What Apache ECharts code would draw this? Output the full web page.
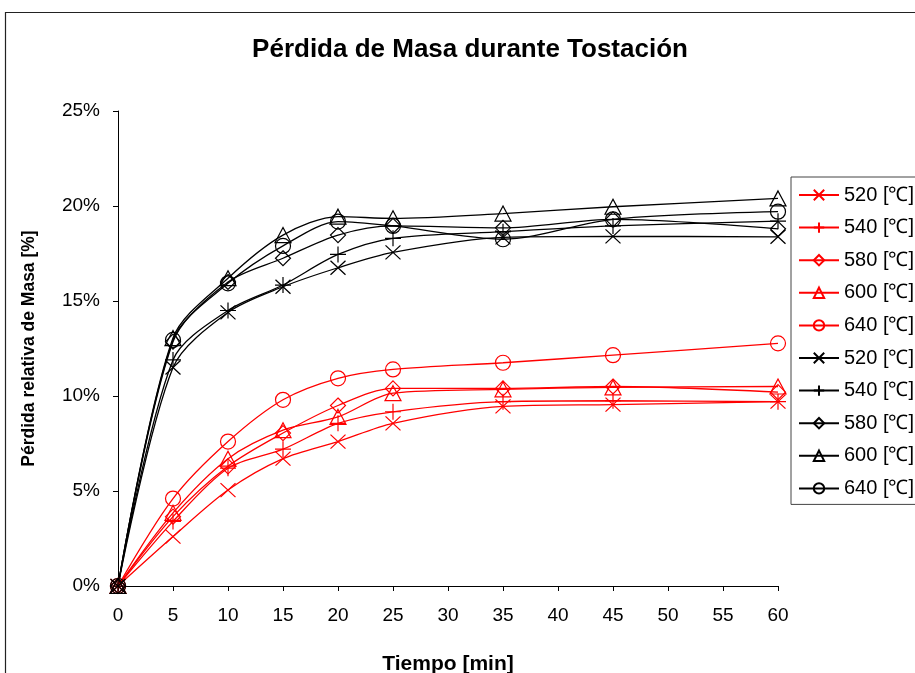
<!DOCTYPE html>
<html>
<head>
<meta charset="utf-8">
<script src="https://cdn.jsdelivr.net/npm/echarts@6/dist/echarts.min.js"></script>
<style>
  html, body { margin: 0; padding: 0; background: #fff; }
  #chart { width: 915px; height: 673px; }
</style>
</head>
<body>
<div id="chart"></div>
<script>
// Tiempo de tostación [min]
const tiempo = [0, 5, 10, 15, 20, 25, 35, 45, 60];

// Pérdida relativa de masa [%] – serie roja
const rojo520 = [0, 2.6, 5.05, 6.7, 7.6, 8.56, 9.45, 9.55, 9.7];
const rojo540 = [0, 3.4, 6.2, 7.2, 8.56, 9.17, 9.7, 9.75, 9.7];
const rojo580 = [0, 3.65, 6.3, 8.05, 9.5, 10.4, 10.4, 10.5, 10.2];
const rojo600 = [0, 3.85, 6.7, 8.2, 8.9, 10.15, 10.35, 10.45, 10.5];
const rojo640 = [0, 4.6, 7.6, 9.8, 10.93, 11.4, 11.75, 12.15, 12.77];

// Pérdida relativa de masa [%] – serie negra
const negro520 = [0, 11.5, 14.4, 15.75, 16.75, 17.56, 18.35, 18.4, 18.38];
const negro540 = [0, 11.9, 14.5, 15.84, 17.45, 18.3, 18.65, 18.95, 19.2];
const negro580 = [0, 12.86, 16.0, 17.25, 18.47, 18.95, 18.85, 19.3, 18.8];
const negro600 = [0, 13.05, 16.2, 18.47, 19.44, 19.35, 19.6, 19.96, 20.4];
const negro640 = [0, 12.95, 15.93, 17.9, 19.18, 18.95, 18.25, 19.3, 19.7];

const etiquetas = ['520 [℃]', '540 [℃]', '580 [℃]', '600 [℃]', '640 [℃]'];
const ejeX = { min: 0, max: 60, paso: 5 };
const ejeY = { min: 0, max: 25, paso: 5 };

const CRUZ = 'path://M0,0L10,10M10,0L0,10';
const MAS = 'path://M5,0L5,10M0,5L10,5';
const marcadores = [
  { symbol: CRUZ, size: [15, 14] },
  { symbol: MAS, size: 16 },
  { symbol: 'diamond', size: 15 },
  { symbol: 'triangle', size: [16, 15] },
  { symbol: 'circle', size: 15 }
];

function serie(nombre, valores, color, idx) {
  const m = marcadores[idx];
  return {
    name: nombre,
    type: 'line',
    smooth: 0.3,
    data: tiempo.map((t, i) => [t, valores[i]]),
    symbol: m.symbol,
    symbolSize: m.size,
    showAllSymbol: true,
    itemStyle: { color: 'rgba(0,0,0,0)', borderColor: color, borderWidth: 1.2 },
    lineStyle: { color: color, width: 1.3 },
    emphasis: { disabled: true },
    z: 2
  };
}

const rojas = [rojo520, rojo540, rojo580, rojo600, rojo640];
const negras = [negro520, negro540, negro580, negro600, negro640];
const series = [];
rojas.forEach((v, i) => series.push(serie('r' + i, v, '#ff0000', i)));
negras.forEach((v, i) => series.push(serie('n' + i, v, '#000000', i)));

const fuente = '"Liberation Sans", Arial, sans-serif';
const chart = echarts.init(document.getElementById('chart'), null, { renderer: 'canvas' });
chart.setOption({
  animation: false,
  backgroundColor: '#fff',
  textStyle: { fontFamily: fuente },
  title: {
    text: 'Pérdida de Masa durante Tostación',
    left: 465, top: 32, textAlign: 'center',
    textStyle: { fontFamily: fuente, fontSize: 26, fontWeight: 'bold', color: '#000' }
  },
  graphic: [{
    type: 'rect', left: 3, top: 10, silent: true,
    shape: { width: 1000, height: 1000 },
    style: { fill: 'none', stroke: '#222', lineWidth: 1.2 }
  }],
  legend: {
    orient: 'vertical',
    left: 791, top: 177,
    padding: [8, 10, 6, 7],
    itemGap: 12.6,
    itemWidth: 40, itemHeight: 13,
    borderColor: '#444', borderWidth: 1,
    backgroundColor: '#fff',
    data: series.map(s => s.name),
    formatter: function (n) { return etiquetas[Number(n.slice(1))]; },
    textStyle: { fontFamily: fuente, fontSize: 20, lineHeight: 20, color: '#000' }
  },
  grid: { left: 118, right: 137, top: 111, bottom: 87, containLabel: false, outerBoundsMode: 'none' },
  xAxis: {
    type: 'value', min: ejeX.min, max: ejeX.max, interval: ejeX.paso,
    name: 'Tiempo [min]', nameLocation: 'middle', nameGap: 68,
    nameTextStyle: { fontFamily: fuente, fontSize: 21, fontWeight: 'bold', color: '#000' },
    axisLine: { lineStyle: { color: '#000', width: 1 } },
    axisTick: { show: true, length: 5, lineStyle: { color: '#000' } },
    axisLabel: { fontFamily: fuente, fontSize: 19, color: '#000', margin: 20 },
    splitLine: { show: false }
  },
  yAxis: {
    type: 'value', min: ejeY.min, max: ejeY.max, interval: ejeY.paso,
    name: 'Pérdida relativa de Masa [%]', nameLocation: 'middle', nameGap: 80,
    nameTextStyle: { fontFamily: fuente, fontSize: 17.5, fontWeight: 'bold', color: '#000' },
    axisLine: { show: true, lineStyle: { color: '#000', width: 1 } },
    axisTick: { show: true, length: 5, lineStyle: { color: '#000' } },
    axisLabel: { fontFamily: fuente, fontSize: 19, color: '#000', margin: 18, formatter: '{value}%' },
    splitLine: { show: false }
  },
  series: series
});
</script>
</body>
</html>
